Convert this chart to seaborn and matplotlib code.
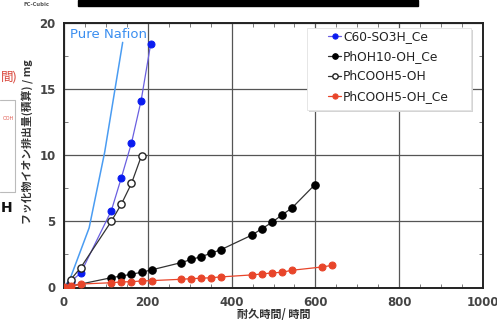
import matplotlib
matplotlib.use("Agg")
import matplotlib.pyplot as plt
from matplotlib.ticker import MultipleLocator
from matplotlib.patches import Rectangle
import seaborn as sns

# ---- data ----
time_nafion = [0, 15, 60, 97, 140]
f_nafion = [0, 0.7, 4.5, 10.2, 18.5]

time_c60 = [0, 16, 40, 113, 137, 161, 184, 207]
f_c60 = [0, 0.45, 1.1, 5.8, 8.3, 10.9, 14.1, 18.4]

time_phoh = [0, 113, 137, 161, 185, 209, 280, 304, 328, 352, 375, 448, 472, 496, 520, 544, 599]
f_phoh = [0, 0.74, 0.87, 1.0, 1.15, 1.33, 1.88, 2.12, 2.33, 2.6, 2.86, 3.95, 4.43, 4.91, 5.47, 6.0, 7.77]

time_cooh = [0, 16, 40, 113, 137, 161, 185]
f_cooh = [0, 0.6, 1.5, 5.0, 6.3, 7.85, 9.95]

time_cooh_ce = [0, 16, 40, 113, 137, 161, 185, 209, 280, 304, 328, 352, 375, 448, 472, 496, 520, 544, 616, 640]
f_cooh_ce = [0.05, 0.1, 0.26, 0.36, 0.42, 0.44, 0.49, 0.52, 0.62, 0.67, 0.7, 0.74, 0.8, 0.95, 1.02, 1.1, 1.15, 1.3, 1.55, 1.67]

labels = ["C60-SO3H_Ce", "PhOH10-OH_Ce", "PhCOOH5-OH", "PhCOOH5-OH_Ce"]
x_ticks = [0, 200, 400, 600, 800, 1000]
y_ticks = [0, 5, 10, 15, 20]

sns.set_style("white")
plt.rcParams['font.family'] = ['DejaVu Sans', 'Noto Sans CJK JP']
cjk = ['Noto Sans CJK JP', 'DejaVu Sans']

fig = plt.figure(figsize=(4.97, 3.25), dpi=100)
ax = fig.add_axes([64/497, 37.5/325, 419/497, 265/325])

sns.lineplot(x=time_nafion, y=f_nafion, ax=ax, color='#4a9cf2', lw=1.1,
             sort=False, legend=False, zorder=2)
sns.lineplot(x=time_c60, y=f_c60, ax=ax, color='#6a5fe0', lw=0.9, marker='o',
             markersize=5, markerfacecolor='#0a1cf0', markeredgecolor='#0a1cf0',
             sort=False, label=labels[0], zorder=3)
sns.lineplot(x=time_phoh, y=f_phoh, ax=ax, color='#333333', lw=0.9, marker='o',
             markersize=5.4, markerfacecolor='#000000', markeredgecolor='#000000',
             sort=False, label=labels[1], zorder=3)
sns.lineplot(x=time_cooh, y=f_cooh, ax=ax, color='#333333', lw=0.9, marker='o',
             markersize=5.2, markerfacecolor='white', markeredgecolor='#222222',
             markeredgewidth=1.0, sort=False, label=labels[2], zorder=4)
sns.lineplot(x=time_cooh_ce, y=f_cooh_ce, ax=ax, color='#e8452a', lw=0.9, marker='o',
             markersize=5, markerfacecolor='#e8452a', markeredgecolor='#e8452a',
             sort=False, label=labels[3], zorder=5)

ax.set_xlim(0, 1000)
ax.set_ylim(0, 20)
ax.set_xticks(x_ticks)
ax.set_yticks(y_ticks)
ax.xaxis.set_minor_locator(MultipleLocator(50))
ax.yaxis.set_minor_locator(MultipleLocator(2.5))
ax.tick_params(which='major', length=0, pad=6, labelsize=8.5, labelcolor='#444444')
ax.tick_params(which='minor', direction='in', length=3, width=0.6, color='#666666',
               top=True, right=True, bottom=True, left=True)
for lab in ax.get_xticklabels() + ax.get_yticklabels():
    lab.set_fontweight('bold')
ax.grid(True, which='major', color='#555555', lw=0.9)
for s in ax.spines.values():
    s.set_color('#222222')
    s.set_linewidth(1.4)
ax.set_xlabel('')
ax.set_ylabel('')

ax.text(0.014, 0.94, 'Pure Nafion', transform=ax.transAxes, color='#3a8ef0',
        fontsize=9.5, va='baseline', ha='left')

# legend box (opaque, with light shadow)
px_x = 1 / 419
px_y = 1 / 265
ax.add_patch(Rectangle((0.58 + 2 * px_x, 0.670 - 2 * px_y), 0.391, 0.309,
                       transform=ax.transAxes, facecolor='#d4d4d4',
                       edgecolor='none', zorder=6))
ax.add_patch(Rectangle((0.58, 0.670), 0.391, 0.309, transform=ax.transAxes,
                       facecolor='white', edgecolor='#e2e2e2', lw=0.6, zorder=6.5))
leg = ax.legend(loc='upper left', bbox_to_anchor=(0.630, 0.972), fontsize=8.8,
                handlelength=1.1, handletextpad=0.15, labelspacing=0.57,
                borderpad=0, frameon=False, borderaxespad=0, markerscale=0.75)
leg.set_zorder(7)
for t in leg.get_texts():
    t.set_color('#222222')

fig.text(274/497, 1 - 315/325, '耐久時間/ 時間', family=cjk, fontsize=8,
         fontweight='bold', color='#333333', ha='center', va='center')
fig.text(27/497, 1 - 142/325, 'フッ化物イオン排出量(積算) / mg', family=cjk,
         fontsize=7.8, fontweight='bold', color='#333333', rotation=90,
         ha='center', va='center')

# slide fragments around the chart
fig.text(37/497, 1 - 4/325, 'FC-Cubic', fontsize=3.8, fontweight='bold',
         color='#555555', ha='center', va='center')
fig.patches.append(Rectangle((78/497, 1 - 6/325), (418-78)/497, 6/325,
                             transform=fig.transFigure, color='black'))
fig.text(0.5/497, 1 - 77/325, '間)', family=cjk, fontsize=9,
         color='#d9453a', ha='left', va='center')
fig.lines.append(plt.Line2D([0, 15/497, 15/497, 0],
                            [1 - 100/325, 1 - 100/325, 1 - 192/325, 1 - 192/325],
                            transform=fig.transFigure, color='#bbbbbb', lw=0.8))
fig.text(14/497, 1 - 118/325, 'OOH', fontsize=3.5, color='#e05a50',
         ha='right', va='center')
fig.text(0.5/497, 1 - 208/325, 'H', fontsize=10, fontweight='bold',
         color='#111111', ha='left', va='center')

fig.savefig('out.png', dpi=100)
